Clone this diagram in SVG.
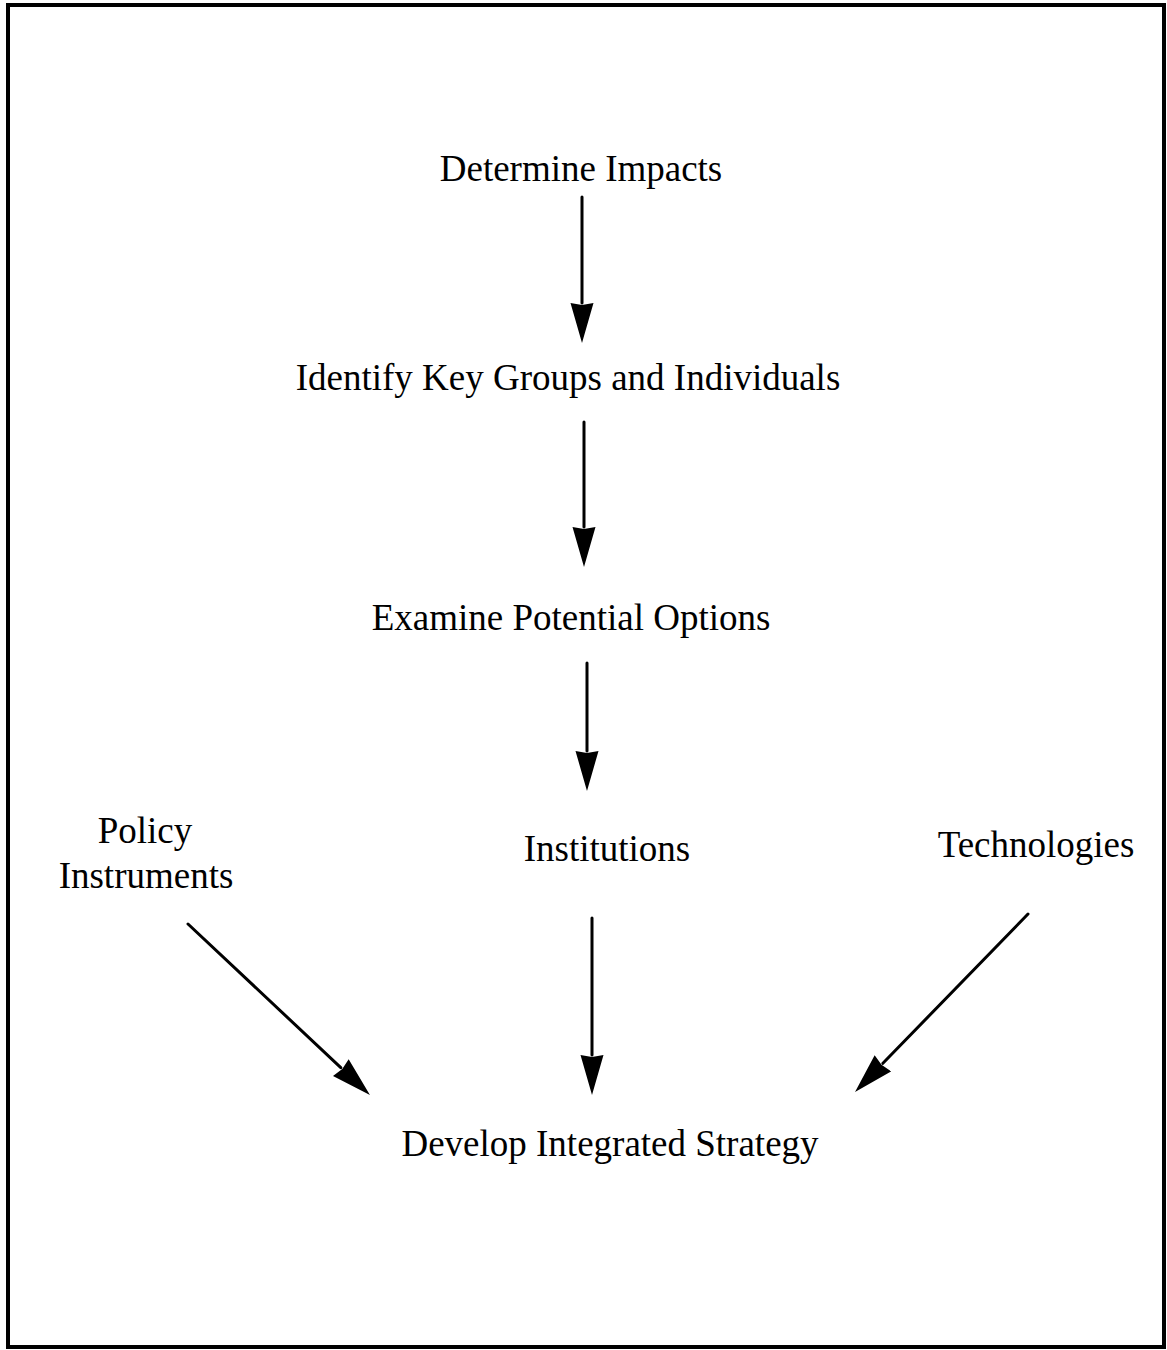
<svg xmlns="http://www.w3.org/2000/svg" width="1167" height="1350" viewBox="0 0 1167 1350">
<style>
.lbl{font-family:"Liberation Serif","Times New Roman",serif;font-size:37px;fill:#000;text-anchor:middle}
.con{stroke:#000;stroke-width:3;fill:none;stroke-linecap:round}
</style>
<defs>
<marker id="ah" markerUnits="userSpaceOnUse" viewBox="0 -12 40 24" markerWidth="40" markerHeight="24" refX="0" refY="0" orient="auto">
<path d="M0,-11.5 L40,0 L0,11.5 L2,0 z" fill="#000"/>
</marker>
</defs>
<rect x="0" y="0" width="1167" height="1350" fill="#fff"/>
<rect x="8" y="5" width="1156" height="1342" fill="none" stroke="#000" stroke-width="4"/>
<g id="determine"><text class="lbl" x="581" y="181">Determine Impacts</text></g>
<g id="identify"><text class="lbl" x="568" y="390">Identify Key Groups and Individuals</text></g>
<g id="examine"><text class="lbl" x="571" y="630">Examine Potential Options</text></g>
<g id="policy"><text class="lbl" x="145" y="843">Policy</text><text class="lbl" x="146" y="888">Instruments</text></g>
<g id="institutions"><text class="lbl" x="607" y="861">Institutions</text></g>
<g id="technologies"><text class="lbl" x="1036" y="857">Technologies</text></g>
<g id="develop"><text class="lbl" x="610" y="1156">Develop Integrated Strategy</text></g>
<g id="connectors">
<line class="con" x1="582" y1="197" x2="582" y2="303" marker-end="url(#ah)"/>
<line class="con" x1="584" y1="422" x2="584" y2="527" marker-end="url(#ah)"/>
<line class="con" x1="587" y1="663" x2="587" y2="751" marker-end="url(#ah)"/>
<line class="con" x1="592" y1="918" x2="592" y2="1055" marker-end="url(#ah)"/>
<line class="con" x1="188" y1="924" x2="340.8" y2="1067.6" stroke-width="3.5" marker-end="url(#ah)"/>
<line class="con" x1="1028" y1="914" x2="882.9" y2="1063.3" stroke-width="3.5" marker-end="url(#ah)"/>
</g>
</svg>
